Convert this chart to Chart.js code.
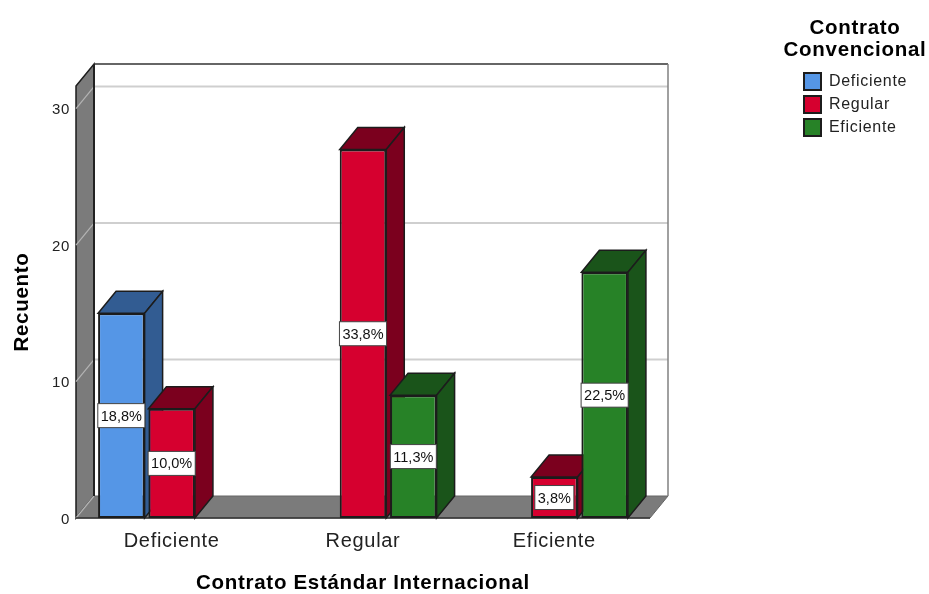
<!DOCTYPE html>
<html>
<head>
<meta charset="utf-8">
<title>Contrato</title>
<script src="https://cdn.jsdelivr.net/npm/chart.js@4"></script>
<style>
  html, body { margin: 0; padding: 0; background: #fff; }
  canvas { display: block; }
</style>
</head>
<body>
<canvas id="chart" width="929" height="594"></canvas>
<script>
// values
const categories = ["Deficiente", "Regular", "Eficiente"];
const seriesNames = ["Deficiente", "Regular", "Eficiente"];
const deficienteValues = [15, null, null];
const regularValues = [8, 27, 3];
const eficienteValues = [null, 9, 18];
const deficienteLabels = ["18,8%", null, null];
const regularLabels = ["10,0%", "33,8%", "3,8%"];
const eficienteLabels = [null, "11,3%", "22,5%"];
const tickStep = 10;
const axisMax = 31.65;

const DEPTH_X = 18;
const DEPTH_Y = 22;
const EDGE = "#1c1c1c";
const WALL = "#7b7b7b";
const FONT = "'Liberation Sans', Arial, sans-serif";

const frontColors = ["#5596e6", "#d6002f", "#278227"];
const sideColors = ["#325c92", "#7b001e", "#1a541a"];
const pctLabels = [deficienteLabels, regularLabels, eficienteLabels];

function poly(ctx, pts, fill, stroke, lw) {
  ctx.beginPath();
  pts.forEach((p, i) => i ? ctx.lineTo(p[0], p[1]) : ctx.moveTo(p[0], p[1]));
  ctx.closePath();
  ctx.fillStyle = fill;
  ctx.fill();
  ctx.strokeStyle = stroke;
  ctx.lineWidth = lw;
  ctx.stroke();
}

function line(ctx, x1, y1, x2, y2, color, lw) {
  ctx.beginPath();
  ctx.moveTo(x1, y1);
  ctx.lineTo(x2, y2);
  ctx.strokeStyle = color;
  ctx.lineWidth = lw;
  ctx.stroke();
}

// top and side faces of one series, before its front faces
function drawDepth(chart, index) {
  const { ctx } = chart;
  chart.getDatasetMeta(index).data.forEach((el, i) => {
    if (chart.data.datasets[index].data[i] == null) return;
    const l = el.x - el.width / 2, r = el.x + el.width / 2;
    const side = sideColors[index];
    poly(ctx, [[l, el.y], [r, el.y], [r + DEPTH_X, el.y - DEPTH_Y], [l + DEPTH_X, el.y - DEPTH_Y]], side, EDGE, 1.5);
    poly(ctx, [[r, el.y], [r + DEPTH_X, el.y - DEPTH_Y], [r + DEPTH_X, el.base - DEPTH_Y], [r, el.base]], side, EDGE, 1.5);
  });
}

const boxPlugin = {
  id: "box3d",
  // walls, floor and grid of the 3D box, behind the bars
  beforeDatasetsDraw(chart) {
    const { ctx, chartArea: a, scales } = chart;
    ctx.save();
    poly(ctx, [[a.left, a.top], [a.left + DEPTH_X, a.top - DEPTH_Y],
      [a.left + DEPTH_X, a.bottom - DEPTH_Y], [a.left, a.bottom]], WALL, EDGE, 1.5);
    poly(ctx, [[a.left, a.bottom], [a.left + DEPTH_X, a.bottom - DEPTH_Y],
      [a.right + DEPTH_X, a.bottom - DEPTH_Y], [a.right, a.bottom]], WALL, "#666", 1);
    scales.y.ticks.forEach(t => {
      const y = scales.y.getPixelForValue(t.value);
      line(ctx, a.left, y, a.left + DEPTH_X, y - DEPTH_Y, "#b4b4b4", 1.2);
      if (t.value > 0) line(ctx, a.left + DEPTH_X, y - DEPTH_Y, a.right + DEPTH_X, y - DEPTH_Y, "#cfcfcf", 2);
    });
    line(ctx, a.left + DEPTH_X, a.top - DEPTH_Y, a.right + DEPTH_X, a.top - DEPTH_Y, "#333", 1.5);
    line(ctx, a.left + DEPTH_X, a.top - DEPTH_Y, a.left + DEPTH_X, a.bottom - DEPTH_Y, "#222", 2);
    line(ctx, a.right + DEPTH_X, a.top - DEPTH_Y, a.right + DEPTH_X, a.bottom - DEPTH_Y, "#808080", 1.5);
    line(ctx, a.left, a.bottom, a.right, a.bottom, "#333", 1.5);
    ctx.restore();
  },
  // chart.js paints the last series first; here blue has to go first
  beforeDatasetDraw() {
    return false;
  },
  afterDatasetsDraw(chart) {
    const { ctx } = chart;
    ctx.save();
    seriesNames.forEach((name, d) => {
      drawDepth(chart, d);
      chart.getDatasetMeta(d).controller.draw();
    });
    // percentage boxes on top of everything
    ctx.font = "14.5px " + FONT;
    ctx.letterSpacing = "0px";
    ctx.textAlign = "center";
    ctx.textBaseline = "middle";
    pctLabels.forEach((labels, d) => {
      chart.getDatasetMeta(d).data.forEach((el, i) => {
        if (!labels[i]) return;
        const cy = (el.y + el.base) / 2;
        const w = ctx.measureText(labels[i]).width + 6;
        ctx.fillStyle = "#fff";
        ctx.strokeStyle = "#444";
        ctx.lineWidth = 1;
        ctx.fillRect(el.x - w / 2, cy - 12, w, 24);
        ctx.strokeRect(el.x - w / 2, cy - 12, w, 24);
        ctx.fillStyle = "#111";
        ctx.fillText(labels[i], el.x, cy + 1);
      });
    });
    ctx.restore();
  },
  beforeLayout(chart) {
    const lg = chart.legend;
    const fit = lg.fit;
    lg.fit = function () {
      fit.call(this);
      this.width = 279; // reserves the white gap right of the plot
    };
    lg.draw = function () { this._draw(); }; // the title is wider than the box, no clip
  },
  afterLayout(chart) {
    // legend sits well away from the plot, so move its box after layout
    const lg = chart.legend;
    lg.left = 798;
    lg.width = 114;
    lg.right = 912;
    lg.top = 0;
    lg.height = 160;
    lg.bottom = 160;
  },
  beforeDraw(chart) {
    chart.ctx.letterSpacing = "0.7px";
  }
};

const datasets = seriesNames.map((name, i) => ({
  label: name,
  data: [deficienteValues, regularValues, eficienteValues][i],
  backgroundColor: frontColors[i],
  borderColor: EDGE,
  borderWidth: 2,
  borderSkipped: false,
  categoryPercentage: 0.789,
  barPercentage: 0.925
}));

new Chart(document.getElementById("chart"), {
  type: "bar",
  data: { labels: categories, datasets },
  plugins: [boxPlugin],
  options: {
    responsive: false,
    animation: false,
    events: [],
    layout: { padding: { top: 86, left: 0, right: 0, bottom: 0 } },
    scales: {
      x: {
        grid: { display: false, tickLength: 0 },
        border: { display: false },
        ticks: { color: "#222", font: { family: FONT, size: 20 }, padding: 11, maxRotation: 0 },
        title: {
          display: true,
          text: "Contrato Estándar Internacional",
          color: "#000",
          font: { family: FONT, size: 20.5, weight: "bold", lineHeight: 1 },
          padding: { top: 0, bottom: 0 }
        },
        afterFit(scale) { scale.height = 76; }
      },
      y: {
        min: 0,
        max: axisMax,
        grid: { display: false, tickLength: 0 },
        border: { display: false },
        ticks: {
          stepSize: tickStep,
          includeBounds: false,
          color: "#222",
          font: { family: FONT, size: 15 },
          padding: 6,
          labelOffset: 1.5
        },
        title: {
          display: true,
          text: "Recuento",
          color: "#000",
          font: { family: FONT, size: 20.5, weight: "bold", lineHeight: 1 },
          padding: { top: 12, bottom: 0 }
        },
        afterFit(scale) { scale.width = 76; }
      }
    },
    plugins: {
      tooltip: { enabled: false },
      legend: {
        position: "right",
        align: "start",
        title: {
          display: true,
          text: ["Contrato", "Convencional"],
          position: "center",
          color: "#000",
          font: { family: FONT, size: 20.5, weight: "bold", lineHeight: 22 / 20.5 },
          padding: { top: 18, bottom: 27 }
        },
        labels: {
          boxWidth: 17,
          boxHeight: 17,
          padding: 6,
          color: "#222",
          font: { family: FONT, size: 16 }
        }
      }
    }
  }
});
</script>
</body>
</html>
